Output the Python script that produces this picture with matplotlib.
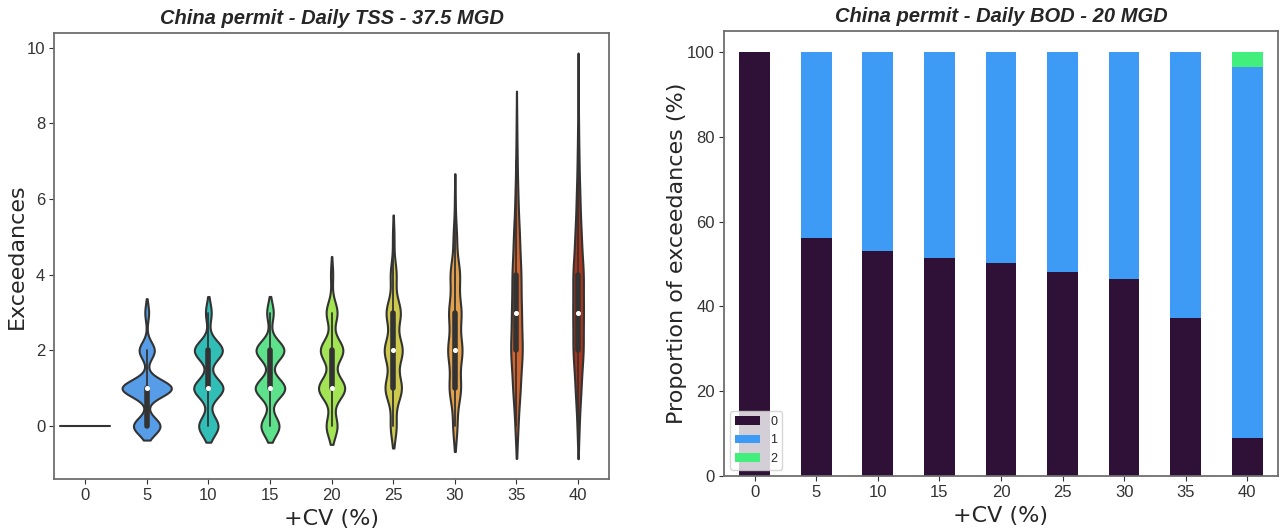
import numpy as np
import pandas as pd
import matplotlib
matplotlib.use("Agg")
import matplotlib.pyplot as plt
import seaborn as sns

# +CV (%) categories shared by both panels
cv_levels = [0, 5, 10, 15, 20, 25, 30, 35, 40]

# Left panel: estimated counts (out of 1000 runs) of daily TSS exceedances 0..9
exc_values = [0, 1, 2, 3, 4, 5, 6, 7, 8, 9]
tss_counts = {
    0:  [1000, 0, 0, 0, 0, 0, 0, 0, 0, 0],
    5:  [280, 520, 160, 40, 0, 0, 0, 0, 0, 0],
    10: [235, 355, 340, 70, 0, 0, 0, 0, 0, 0],
    15: [220, 360, 340, 80, 0, 0, 0, 0, 0, 0],
    20: [150, 360, 310, 150, 30, 0, 0, 0, 0, 0],
    25: [95, 265, 290, 230, 95, 25, 0, 0, 0, 0],
    30: [75, 205, 255, 220, 170, 60, 15, 0, 0, 0],
    35: [57, 143, 230, 186, 172, 115, 57, 28, 12, 0],
    40: [40, 110, 200, 200, 205, 120, 70, 35, 18, 2],
}

# Right panel: proportion of BOD exceedances (%) per +CV level
bod_zero = [100, 56, 53, 51.5, 50.3, 48, 46.5, 37.2, 9]
bod_one = [0, 44, 47, 48.5, 49.7, 52, 53.5, 62.8, 87.5]
bod_two = [0, 0, 0, 0, 0, 0, 0, 0, 3.5]
bod_colors = ['#2f1036', '#3d9bf5', '#42ef7c']

# long-form table for the violins
rows = []
for cv in cv_levels:
    vals = np.repeat(exc_values, tss_counts[cv])
    rows.append(pd.DataFrame({'cv': cv, 'exceedances': vals}))
tss = pd.concat(rows, ignore_index=True)

# groups with a single value have no density -> drawn as a flat line
single = tss.groupby('cv')['exceedances'].nunique() == 1
flat_cv = list(single[single].index)
spread = tss[~tss['cv'].isin(flat_cv)]

bod = pd.DataFrame({'0': bod_zero, '1': bod_one, '2': bod_two}, index=cv_levels)

sns.set_style('ticks')
plt.rcParams['font.family'] = ['Liberation Sans', 'DejaVu Sans']

fig = plt.figure(figsize=(12.83, 5.32), dpi=100)
ax1 = fig.add_axes([0.0423, 0.0996, 0.4323, 0.839])
ax2 = fig.add_axes([0.5643, 0.1053, 0.4318, 0.837])

palette = sns.color_palette('turbo', len(cv_levels))
violin_width = 0.8
sns.violinplot(data=spread, x='cv', y='exceedances', hue='cv',
               order=cv_levels, hue_order=cv_levels, palette=palette,
               legend=False, linecolor='#333333', linewidth=1.5,
               common_norm=True, width=violin_width, bw_adjust=1.15, cut=1.65,
               inner_kws=dict(box_width=4, whis_width=1.3, marker='o',
                              markersize=2.8),
               ax=ax1)
for cv in flat_cv:
    pos = cv_levels.index(cv)
    val = tss.loc[tss['cv'] == cv, 'exceedances'].iloc[0]
    ax1.plot([pos - violin_width / 2, pos + violin_width / 2], [val, val],
             color='#333333', lw=1.5)
ax1.set_xlim(-0.5, len(cv_levels) - 0.5)

ax1.set_title('China permit - Daily TSS - 37.5 MGD', fontsize=14.5,
              fontweight='bold', fontstyle='italic')
ax1.set_xlabel('+CV (%)', fontsize=16, family='DejaVu Sans')
ax1.set_ylabel('Exceedances', fontsize=16, family='DejaVu Sans', labelpad=0)

bod.plot(kind='bar', stacked=True, color=bod_colors, rot=0, ax=ax2,
         width=0.5, linewidth=0)
ax2.set_title('China permit - Daily BOD - 20 MGD', fontsize=14.5,
              fontweight='bold', fontstyle='italic')
ax2.set_xlabel('+CV (%)', fontsize=16, family='DejaVu Sans')
ax2.set_ylabel('Proportion of exceedances (%)', fontsize=16,
               family='DejaVu Sans', labelpad=0)
ax2.legend(loc='lower left', fontsize=9)

for ax in (ax1, ax2):
    ax.tick_params(labelsize=12, colors='#333333', length=3.5, pad=3)
    for s in ax.spines.values():
        s.set_visible(True)
        s.set_color('#6e6e6e')
        s.set_linewidth(1.3)

fig.savefig('out.png', dpi=100)
